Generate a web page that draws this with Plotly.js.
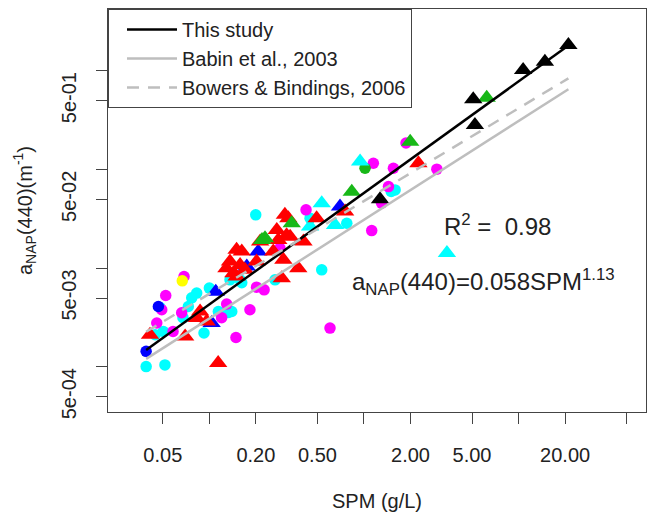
<!DOCTYPE html>
<html><head><meta charset="utf-8">
<script src="https://cdn.plot.ly/plotly-3.0.1.min.js"></script>
<style>html,body{margin:0;padding:0;background:#fff}#plot{width:647px;height:514px}</style>
</head><body><div id="plot"></div>
<script>
// ---- data (SPM in g/L, aNAP(440) in 1/m) ----
const cyanCircSPM = [1.59,1.50,0.774,0.448,0.533,0.1995,0.266,0.158,0.136,0.0828,0.0769,0.0923,0.132,0.1396,0.162,0.1143,0.0731,0.0675,0.0504,0.0446,0.039,0.0516,0.048,0.10];
const cyanCircA   = [0.0622,0.060,0.0286,0.0322,0.00964,0.0348,0.00764,0.00764,0.00764,0.00561,0.00502,0.00221,0.00356,0.00365,0.00713,0.00365,0.0041,0.00316,0.00229,0.00212,0.00101,0.00105,0.0040,0.0063];
const magCircSPM  = [2.96,1.87,1.15,1.55,1.44,1.30,0.422,1.122,0.603,0.202,0.226,0.183,0.1486,0.0686,0.0522,0.0492,0.0457,0.0662,0.1294,0.120,0.0582,0.286];
const magCircA    = [0.101,0.186,0.116,0.1033,0.0673,0.0457,0.0391,0.0241,0.00248,0.00644,0.00605,0.0038,0.00199,0.00826,0.0053,0.0038,0.00279,0.00354,0.00434,0.00316,0.00229,0.016];
const blueCircSPM = [0.039,0.0468];
const blueCircA   = [0.00144,0.0041];
const yellowCircSPM = [0.0668];
const yellowCircA   = [0.00746];
const greenCircSPM = [1.016];
const greenCircA   = [0.1033];
const cyanTriSPM  = [0.944,0.533,0.650,0.448,3.44];
const cyanTriA    = [0.1205,0.0457,0.0275,0.0265,0.0143];
const blueTriSPM  = [0.70,0.207,0.1746,0.11,0.1035];
const blueTriA    = [0.0422,0.0148,0.0104,0.0058,0.00279];
const redTriSPM   = [2.25,0.755,0.494,0.406,0.308,0.324,0.273,0.333,0.279,0.213,0.150,0.162,0.136,0.129,0.158,0.170,0.202,0.301,0.259,0.376,0.294,0.143,0.150,0.0413,0.0697,0.083,0.0961,0.0871,0.114,0.316];
const redTriA     = [0.116,0.0376,0.0322,0.0187,0.0348,0.0322,0.0245,0.0209,0.0194,0.0187,0.0154,0.0148,0.0117,0.0100,0.0108,0.00964,0.0117,0.0122,0.0148,0.0100,0.00794,0.00893,0.00826,0.00212,0.00204,0.00313,0.00289,0.00365,0.0011,0.0216];
const greenTriSPM = [6.22,1.99,0.834,0.341,0.229,0.219];
const greenTriA   = [0.535,0.192,0.0598,0.0286,0.0202,0.0194];
const blackTriSPM = [21.0,14.8,10.7,5.09,5.22,1.27];
const blackTriA   = [1.83,1.24,1.02,0.515,0.283,0.0501];

// power-law relations a = coef * SPM^exp
const lineNames = ['This study','Babin et al., 2003','Bowers & Bindings, 2006'];
const lineCoef  = [0.058, 0.031, 0.048];
const lineExp   = [1.13, 1.0, 0.94];
const lineSPM   = [0.039, 21];

const xTickVals = [0.05,0.2,0.5,2,5,20];
const xTickText = ['0.05','0.20','0.50','2.00','5.00','20.00'];
const xMinorVals = [0.1,1,10,50];
const yTickVals = [5e-4,5e-3,5e-2,5e-1];
const yTickText = ['5e-04','5e-03','5e-02','5e-01'];
const yMinorVals = [1e-3,1e-2,1e-1,1];

const FONT = 'Liberation Sans, Arial, Helvetica, sans-serif';
function pts(x, y, color, symbol, size){
  return {x:x, y:y, type:'scatter', mode:'markers', showlegend:false, hoverinfo:'skip',
    marker:{color:color, symbol:symbol, size:size, line:{width:0}}};
}
const CS = 11.5, TS = 16;
const traces = [
  pts(cyanCircSPM, cyanCircA, '#00FFFF', 'circle', CS),
  pts(magCircSPM, magCircA, '#FF00FF', 'circle', CS),
  pts(blueCircSPM, blueCircA, '#0000FF', 'circle', CS),
  pts(yellowCircSPM, yellowCircA, '#FFFF00', 'circle', CS),
  pts(greenCircSPM, greenCircA, '#18B818', 'circle', CS),
  pts(cyanTriSPM, cyanTriA, '#00FFFF', 'triangle-up', TS),
  pts(blueTriSPM, blueTriA, '#0000FF', 'triangle-up', TS),
  pts(redTriSPM, redTriA, '#FF0000', 'triangle-up', TS),
  pts(greenTriSPM, greenTriA, '#18B818', 'triangle-up', TS),
  pts(blackTriSPM, blackTriA, '#000000', 'triangle-up', TS)
];
const lineStyles = [
  {color:'#000000', width:2.5, dash:'solid'},
  {color:'#BEBEBE', width:2.5, dash:'solid'},
  {color:'#BEBEBE', width:2.5, dash:'12px,9px'}
];
for (let i=0;i<lineNames.length;i++){
  traces.push({x:lineSPM, y:lineSPM.map(s=>lineCoef[i]*Math.pow(s,lineExp[i])),
    type:'scatter', mode:'lines', name:lineNames[i], line:lineStyles[i], hoverinfo:'skip'});
}

const axisCommon = {showgrid:false, zeroline:false, showline:true, mirror:true,
  linecolor:'#444', linewidth:1, ticks:'outside', ticklen:11, tickcolor:'#444', tickwidth:1,
  tickfont:{family:FONT, size:20, color:'#222'}};

const layout = {
  width:647, height:514,
  margin:{l:108, r:1, t:9, b:102},
  paper_bgcolor:'#fff', plot_bgcolor:'#fff',
  font:{family:FONT, size:20, color:'#222'},
  xaxis:Object.assign({}, axisCommon, {type:'log', range:[Math.log10(0.0221), Math.log10(66.7)],
    tickmode:'array', tickvals:xTickVals, ticktext:xTickText, ticklabelstandoff:14,
    minor:{tickmode:'array', tickvals:xMinorVals, ticks:'outside', ticklen:11, tickcolor:'#444', tickwidth:1, showgrid:false},
    title:{text:'SPM (g/L)', font:{family:FONT, size:20, color:'#222'}, standoff:28}}),
  yaxis:Object.assign({}, axisCommon, {type:'log', range:[-3.456, 0.627],
    tickmode:'array', tickvals:yTickVals, ticktext:yTickText, tickangle:-90, ticklabelstandoff:12,
    minor:{tickmode:'array', tickvals:yMinorVals, ticks:'outside', ticklen:11, tickcolor:'#444', tickwidth:1, showgrid:false},
    title:{text:'a<sub>NAP</sub>(440)(m<sup>-1</sup>)', font:{family:FONT, size:20, color:'#222'}, standoff:20}}),
  legend:{x:0, y:1, xanchor:'left', yanchor:'top', bgcolor:'#fff', bordercolor:'#444', borderwidth:1,
    font:{family:FONT, size:20, color:'#222'}, itemwidth:50, indentation:13},
  annotations:[
    {xref:'paper', yref:'paper', x:0.621, y:0.464, xanchor:'left', yanchor:'middle', showarrow:false,
     text:'R<sup>2</sup> =&nbsp; 0.98', font:{family:FONT, size:24, color:'#222'}},
    {xref:'paper', yref:'paper', x:0.450, y:0.3226, xanchor:'left', yanchor:'middle', showarrow:false,
     text:'a<sub>NAP</sub>(440)=0.058SPM<sup>1.13</sup>', font:{family:FONT, size:24, color:'#222'}}
  ]
};
Plotly.newPlot('plot', traces, layout, {staticPlot:true, displayModeBar:false});
</script></body></html>
